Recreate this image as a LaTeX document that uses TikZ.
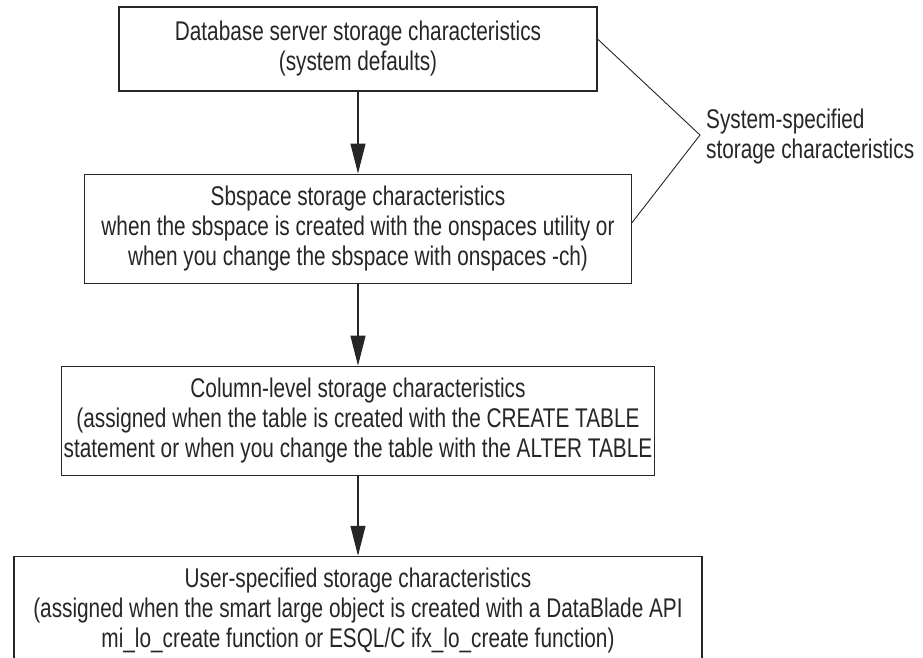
\documentclass[tikz,border=0pt]{standalone}
\usepackage{fontspec}
\setmainfont{Liberation Sans}[FakeStretch=0.77]
\usetikzlibrary{positioning,arrows.meta}

\begin{document}
\begin{tikzpicture}[
    x=1pt, y=-1pt,
    node distance=82pt,
    box/.style={draw=black!85, line width=1.1pt, align=center, inner xsep=6pt, inner ysep=0pt,
        minimum height=109pt, text=black!85, font=\fontsize{27}{30}\selectfont},
    arr/.style={-{Triangle[length=30pt,width=15pt]}, line width=1.1pt, draw=black!85, fill=black!85}
]
\useasboundingbox (0,0) rectangle (923,657);
\node[box, minimum width=478pt, minimum height=84pt] (server) at (358,49)
    {Database server storage characteristics\\ (system defaults)};
\node[box, below=of server, minimum width=547pt] (sbspace)
    {Sbspace storage characteristics\\ when the sbspace is created with the onspaces utility or\\ when you change the sbspace with onspaces -ch)};
\node[box, below=of sbspace, inner xsep=2pt] (column)
    {Column-level storage characteristics\\ (assigned when the table is created with the CREATE TABLE\\ statement or when you change the table with the ALTER TABLE};
\node[box, below=80pt of column, minimum width=688pt] (user)
    {User-specified storage characteristics\\ (assigned when the smart large object is created with a DataBlade API\\ mi\_lo\_create function or ESQL/C ifx\_lo\_create function)};
\draw[arr] (server) -- (sbspace);
\draw[arr] (sbspace) -- (column);
\draw[arr] (column) -- (user);
% bracket to the side note
\coordinate (tip) at (700,135);
\node[anchor=west, align=left, inner sep=0pt, text=black!85, font=\fontsize{27}{30}\selectfont] (system) at (706,137)
    {System-specified\\ storage characteristics};
\draw[draw=black!85, line width=0.9pt] ([yshift=10pt]server.east) -- (tip) -- ([yshift=6pt]sbspace.east);
\end{tikzpicture}
\end{document}
